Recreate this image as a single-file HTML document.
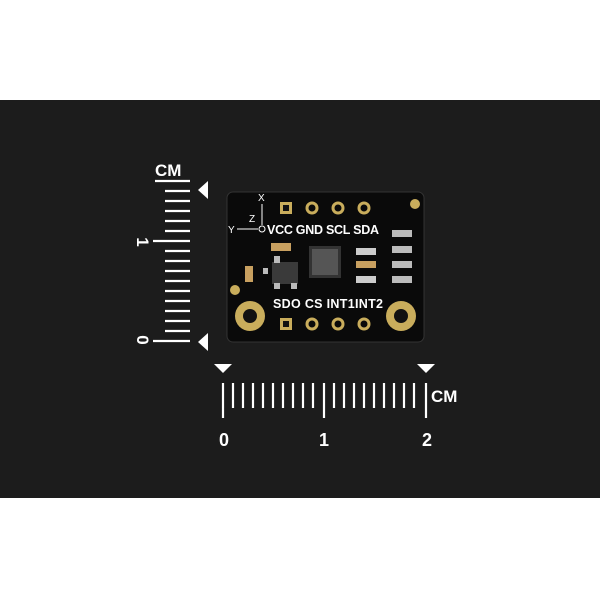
<!DOCTYPE html>
<html><head><style>body{margin:0;background:#fff}svg{display:block}</style></head><body>
<svg width="600" height="600" viewBox="0 0 600 600" xmlns="http://www.w3.org/2000/svg" font-family="Liberation Sans, sans-serif">
<rect width="600" height="600" fill="#fff"/>
<rect x="0" y="100" width="600" height="398" fill="#1c1c1c"/>
<!-- vertical ruler -->
<g stroke="#fff" stroke-width="2.2">
<line x1="155" y1="181" x2="190" y2="181"/>
<line x1="165" y1="191" x2="190" y2="191"/>
<line x1="165" y1="201" x2="190" y2="201"/>
<line x1="165" y1="211" x2="190" y2="211"/>
<line x1="165" y1="221" x2="190" y2="221"/>
<line x1="165" y1="231" x2="190" y2="231"/>
<line x1="153" y1="241" x2="190" y2="241"/>
<line x1="165" y1="251" x2="190" y2="251"/>
<line x1="165" y1="261" x2="190" y2="261"/>
<line x1="165" y1="271" x2="190" y2="271"/>
<line x1="165" y1="281" x2="190" y2="281"/>
<line x1="165" y1="291" x2="190" y2="291"/>
<line x1="165" y1="301" x2="190" y2="301"/>
<line x1="165" y1="311" x2="190" y2="311"/>
<line x1="165" y1="321" x2="190" y2="321"/>
<line x1="165" y1="331" x2="190" y2="331"/>
<line x1="153" y1="341" x2="190" y2="341"/>
</g>
<text x="155" y="176" fill="#fff" font-size="17" font-weight="bold">CM</text>
<text x="0" y="0" fill="#fff" font-size="17" font-weight="bold" transform="translate(137,242) rotate(90)" text-anchor="middle">1</text>
<text x="0" y="0" fill="#fff" font-size="17" font-weight="bold" transform="translate(137,340) rotate(90)" text-anchor="middle">0</text>
<polygon points="198,190 208,181 208,199" fill="#fff"/>
<polygon points="198,342 208,333 208,351" fill="#fff"/>
<!-- horizontal ruler -->
<g stroke="#fff" stroke-width="2.2">
<line x1="223" y1="383" x2="223" y2="418"/>
<line x1="233" y1="383" x2="233" y2="408"/>
<line x1="243" y1="383" x2="243" y2="408"/>
<line x1="253" y1="383" x2="253" y2="408"/>
<line x1="263" y1="383" x2="263" y2="408"/>
<line x1="273" y1="383" x2="273" y2="408"/>
<line x1="283" y1="383" x2="283" y2="408"/>
<line x1="293" y1="383" x2="293" y2="408"/>
<line x1="303" y1="383" x2="303" y2="408"/>
<line x1="313" y1="383" x2="313" y2="408"/>
<line x1="324" y1="383" x2="324" y2="418"/>
<line x1="334" y1="383" x2="334" y2="408"/>
<line x1="344" y1="383" x2="344" y2="408"/>
<line x1="354" y1="383" x2="354" y2="408"/>
<line x1="364" y1="383" x2="364" y2="408"/>
<line x1="374" y1="383" x2="374" y2="408"/>
<line x1="384" y1="383" x2="384" y2="408"/>
<line x1="394" y1="383" x2="394" y2="408"/>
<line x1="404" y1="383" x2="404" y2="408"/>
<line x1="414" y1="383" x2="414" y2="408"/>
<line x1="426" y1="383" x2="426" y2="418"/>
</g>
<polygon points="214,364 232,364 223,373" fill="#fff"/>
<polygon points="417,364 435,364 426,373" fill="#fff"/>
<text x="431" y="402" fill="#fff" font-size="17" font-weight="bold">CM</text>
<text x="224" y="446" fill="#fff" font-size="18" font-weight="bold" text-anchor="middle">0</text>
<text x="324" y="446" fill="#fff" font-size="18" font-weight="bold" text-anchor="middle">1</text>
<text x="427" y="446" fill="#fff" font-size="18" font-weight="bold" text-anchor="middle">2</text>
<!-- board -->
<rect x="227" y="192" width="197" height="150" rx="6" fill="#0a0a0a" stroke="#333" stroke-width="1"/>
<g fill="none" stroke="#c9ad5c" stroke-width="3">
<circle cx="312" cy="208" r="5"/><circle cx="338" cy="208" r="5"/><circle cx="364" cy="208" r="5"/>
<circle cx="312" cy="324" r="5"/><circle cx="338" cy="324" r="5"/><circle cx="364" cy="324" r="5"/>
</g>
<rect x="280" y="202" width="12" height="12" fill="#c9ad5c"/><rect x="283" y="205" width="6" height="6" fill="#111"/>
<rect x="280" y="318" width="12" height="12" fill="#c9ad5c"/><rect x="283" y="321" width="6" height="6" fill="#111"/>
<circle cx="415" cy="204" r="5" fill="#c9ad5c"/>
<circle cx="235" cy="290" r="5" fill="#c9ad5c"/>
<circle cx="250" cy="316" r="15" fill="#c9ad5c"/><circle cx="250" cy="316" r="7" fill="#111"/>
<circle cx="401" cy="316" r="15" fill="#c9ad5c"/><circle cx="401" cy="316" r="7" fill="#111"/>
<g fill="#fff" font-size="12.5" font-weight="600">
<text x="267" y="234" textLength="112">VCC GND SCL SDA</text>
<text x="273" y="308" textLength="110">SDO CS INT1INT2</text>
</g>
<g fill="#fff" font-size="10">
<text x="228" y="233">Y</text>
<text x="258" y="201">X</text>
<text x="249" y="222">Z</text>
</g>
<g stroke="#fff" stroke-width="1" fill="none">
<line x1="237" y1="229" x2="258" y2="229"/><line x1="262" y1="204" x2="262" y2="225"/>
<circle cx="262" cy="229" r="3"/>
</g>
<!-- components -->
<rect x="309" y="246" width="32" height="32" fill="#333"/>
<rect x="312" y="249" width="26" height="26" fill="#555"/>
<rect x="272" y="262" width="26" height="22" fill="#3a3a3a"/>
<rect x="274" y="256" width="6" height="7" fill="#bbb"/><rect x="274" y="283" width="6" height="6" fill="#bbb"/><rect x="291" y="283" width="6" height="6" fill="#bbb"/>
<rect x="263" y="268" width="5" height="6" fill="#bbb"/>
<rect x="271" y="243" width="20" height="8" fill="#c8a060"/>
<rect x="245" y="266" width="8" height="16" fill="#c8a060"/>
<rect x="356" y="248" width="20" height="7" fill="#ccc"/>
<rect x="356" y="261" width="20" height="7" fill="#c8a060"/>
<rect x="356" y="276" width="20" height="7" fill="#ccc"/>
<rect x="392" y="230" width="20" height="7" fill="#bbb"/>
<rect x="392" y="246" width="20" height="7" fill="#bbb"/>
<rect x="392" y="261" width="20" height="7" fill="#bbb"/>
<rect x="392" y="276" width="20" height="7" fill="#bbb"/>
</svg>
</body></html>
